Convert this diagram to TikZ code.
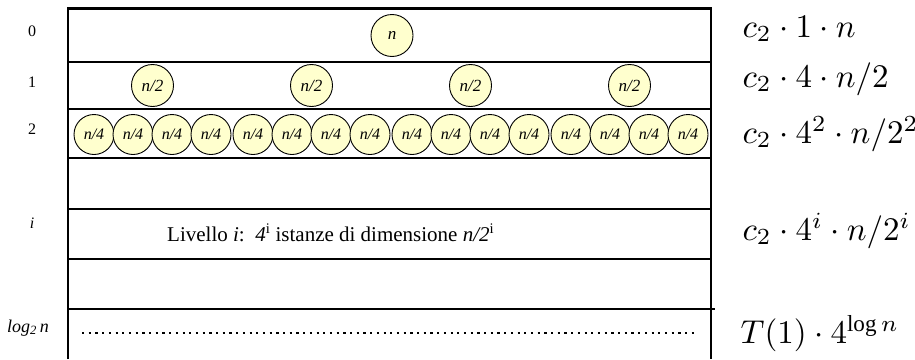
\documentclass[tikz,border=0pt]{standalone}
\usepackage{fontspec}
\setmainfont{Liberation Serif}
\definecolor{subfill}{RGB}{255,255,206}
\begin{document}
\begin{tikzpicture}[x=1pt,y=-1pt,
  frame/.style={line width=2.2pt},
  rowline/.style={line width=1.8pt},
  dotline/.style={line width=2pt, dash pattern=on 2.2pt off 4.5pt},
  sub/.style={circle, draw, line width=0.9pt, fill=subfill, inner sep=0pt},
  big/.style={sub, minimum size=42pt, font=\fontsize{17}{20}\selectfont\itshape},
  small/.style={sub, minimum size=40pt, font=\fontsize{16}{19}\selectfont\itshape},
  lvl/.style={font=\fontsize{16}{19}\selectfont},
  cost/.style={anchor=base west, inner sep=0pt, scale=3.3, transform shape}]
\useasboundingbox (0,0) rectangle (915,359);

% recursion-tree table: outer frame and level separators
\draw[frame] (68,359) -- (68,8.5) -- (711,8.5) -- (711,359);
\foreach \y in {62,109,158,209,259}
  \draw[rowline] (68,\y) -- (711,\y);
\draw[rowline] (68,309) -- (715,309);

% level 0: the whole instance
\node[big] (r0) at (392,35.5) {n};
% level 1: four instances of size n/2
\foreach \k in {0,...,3}
  \node[big] (h\k) at ({152.5+159*\k},85.5) {n/2};
% level 2: sixteen instances of size n/4
\foreach \k in {0,...,3}
  \foreach \j in {0,...,3}
    \node[small] (q\k\j) at ({94+159*\k+39*\j},134.5) {n/4};

% generic level
\node[anchor=base west, inner sep=0pt, font=\fontsize{21}{25}\selectfont] (gen) at (167,241)
  {Livello \textit{i}:\ \ \textit{4}\textsuperscript{i} istanze di dimensione \textit{n/2}\textsuperscript{i}};
% leaves
\coordinate (d0) at (82,333);
\coordinate (d1) at (697,333);
\draw[dotline] (d0) -- (d1);

% level numbers
\node[lvl] (l0) at (32,31) {0};
\node[lvl] (l1) at (32,82) {1};
\node[lvl] (l2) at (32,129) {2};
\node[lvl] (li) at (32,223) {\textit{i}};
\node[lvl, font=\fontsize{18}{21}\selectfont] (ll) at (28,328) {\textit{log\textsubscript{2}\,n}};

% cost per level
\node[cost] (c0) at (742,37) {$c_2\cdot 1\cdot n$};
\node[cost] (c1) at (742,87) {$c_2\cdot 4\cdot n/2$};
\node[cost] (c2) at (742,143) {$c_2\cdot 4^2\cdot n/2^2$};
\node[cost] (ci) at (742,240) {$c_2\cdot 4^i\cdot n/2^i$};
\node[cost] (cl) at (740,343) {$T(1)\cdot 4^{\log n}$};
\end{tikzpicture}
\end{document}
